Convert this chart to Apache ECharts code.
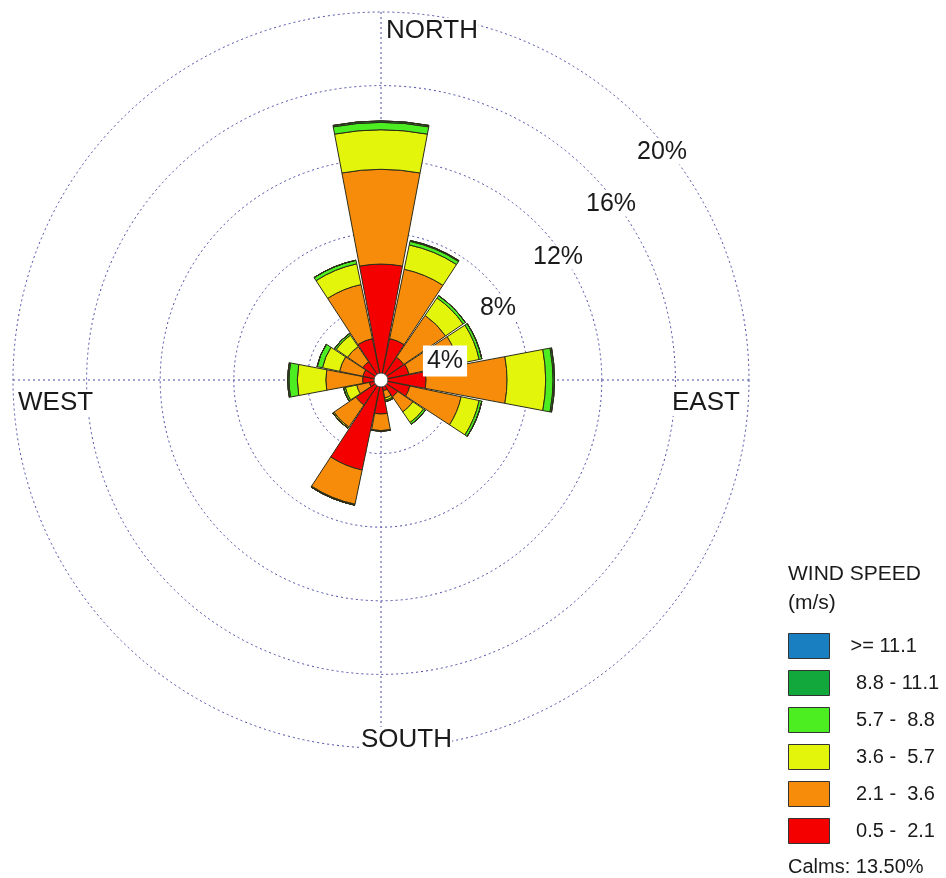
<!DOCTYPE html>
<html>
<head>
<meta charset="utf-8">
<script src="https://cdn.jsdelivr.net/npm/echarts@6/dist/echarts.min.js"></script>
<style>html,body{margin:0;padding:0;background:#fff;}#chart{width:946px;height:878px;}</style>
</head>
<body>
<div id="chart"></div>
<script>
// ---- data ----
const directions = ['N','NNE','NE','ENE','E','ESE','SE','SSE','S','SSW','SW','WSW','W','WNW','NW','NNW'];
const speedClasses = ['0.5 -  2.1', '2.1 -  3.6', '3.6 -  5.7', '5.7 -  8.8', '8.8 - 11.1', '>= 11.1'];
// frequency (%) per direction for each speed class
const speed_05_21  = [6.30, 2.30, 1.50, 1.55, 2.45, 1.60, 1.10, 0.60, 1.85, 5.00, 1.65, 0.65, 1.00, 1.00, 1.20, 2.30];
const speed_21_36  = [5.15, 3.85, 2.75, 2.75, 4.40, 2.85, 1.00, 0.40, 0.90, 1.90, 1.45, 0.70, 2.00, 1.30, 1.00, 3.00];
const speed_36_57  = [2.15, 1.35, 1.15, 1.15, 2.10, 1.00, 0.70, 0.12, 0.03, 0.05, 0.08, 0.63, 1.55, 0.95, 0.75, 1.15];
const speed_57_88  = [0.40, 0.20, 0.15, 0.15, 0.40, 0.15, 0.12, 0.08, 0.00, 0.00, 0.00, 0.10, 0.45, 0.30, 0.10, 0.20];
const speed_88_111 = [0.08, 0.05, 0.00, 0.00, 0.08, 0.00, 0.00, 0.00, 0.00, 0.00, 0.00, 0.00, 0.07, 0.00, 0.00, 0.00];
const speed_ge_111 = [0, 0, 0, 0, 0, 0, 0, 0, 0, 0, 0, 0, 0, 0, 0, 0];
const ringTicks = [4, 8, 12, 16, 20];
const ringLabels = ['4%', '8%', '12%', '16%', '20%'];
const cardinalLabels = ['NORTH', 'EAST', 'SOUTH', 'WEST'];
const calms = 13.50;
const legendTitle = ['WIND SPEED', '(m/s)'];

// ---- styling ----
const FONT = '"Liberation Sans", Arial, sans-serif';
const colors = ['#f50000', '#f78c0a', '#e4f50c', '#4cee22', '#12a83c', '#1a7fc1'];
const seriesData = [speed_05_21, speed_21_36, speed_36_57, speed_57_88, speed_88_111, speed_ge_111];
const gridLine = { color: '#4a4aa6', type: [2, 3], width: 1 };
const legendNames = ['>= 11.1', ' 8.8 - 11.1', ' 5.7 -  8.8', ' 3.6 -  5.7', ' 2.1 -  3.6', ' 0.5 -  2.1'];
const seriesNames = [' 0.5 -  2.1', ' 2.1 -  3.6', ' 3.6 -  5.7', ' 5.7 -  8.8', ' 8.8 - 11.1', '>= 11.1'];

const chart = echarts.init(document.getElementById('chart'), null, { renderer: 'canvas' });

const barSeries = seriesData.map((arr, i) => ({
  type: 'bar',
  name: seriesNames[i],
  coordinateSystem: 'polar',
  polarIndex: 0,
  stack: 'wind',
  data: arr,
  barCategoryGap: '5%',
  itemStyle: { color: colors[i], borderColor: '#2c2c18', borderWidth: 1 },
  emphasis: { disabled: true },
  silent: true,
  z: 3
}));

function txt(text, x, y, size, extra) {
  return {
    type: 'text', x: x, y: y, z: 100,
    style: Object.assign({ text: text, fontSize: size, fontFamily: FONT, fill: '#1a1a1a', align: 'left', verticalAlign: 'middle' }, extra || {})
  };
}

const graphics = [
  txt(cardinalLabels[0], 386, 31, 26, { backgroundColor: '#fff' }),
  txt(cardinalLabels[1], 672, 403, 26, { backgroundColor: '#fff' }),
  txt(cardinalLabels[2], 361, 740, 26, { backgroundColor: '#fff' }),
  txt(cardinalLabels[3], 18, 403, 26, { backgroundColor: '#fff' }),
  txt(ringLabels[4], 662, 152, 25, { align: 'center', backgroundColor: '#fff' }),
  txt(ringLabels[3], 611, 204, 25, { align: 'center', backgroundColor: '#fff' }),
  txt(ringLabels[2], 558, 257, 25, { align: 'center', backgroundColor: '#fff' }),
  txt(ringLabels[1], 498, 308, 25, { align: 'center', backgroundColor: '#fff' }),
  txt(ringLabels[0], 445, 361, 25, { align: 'center', backgroundColor: '#fff', padding: [3, 4, 3, 4] }),
  txt(legendTitle[0], 788, 574, 21),
  txt(legendTitle[1], 788, 603, 21),
  txt('Calms: ' + calms.toFixed(2) + '%', 788, 867, 20)
];

const option = {
  animation: false,
  backgroundColor: '#ffffff',
  polar: [
    { center: [381, 380], radius: [0, 368] },
    { center: [381, 380], radius: [0, 368] }
  ],
  angleAxis: [
    { polarIndex: 0, type: 'category', data: directions, startAngle: 101.25, clockwise: true,
      axisLine: { show: false }, axisTick: { show: false }, axisLabel: { show: false }, splitLine: { show: false } },
    { polarIndex: 1, type: 'value', min: 0, max: 360, interval: 90, startAngle: 90, clockwise: true,
      axisLine: { show: false }, axisTick: { show: false }, axisLabel: { show: false },
      splitLine: { show: true, lineStyle: gridLine } }
  ],
  radiusAxis: [
    { polarIndex: 0, type: 'value', min: 0, max: ringTicks[ringTicks.length - 1], interval: ringTicks[0],
      axisLine: { show: false }, axisTick: { show: false }, axisLabel: { show: false },
      splitLine: { show: true, lineStyle: gridLine } },
    { polarIndex: 1, type: 'value', min: 0, max: 20, show: false }
  ],
  legend: {
    orient: 'vertical', left: 788, top: 633, padding: 0,
    itemWidth: 41, itemHeight: 25, itemGap: 11,
    icon: 'rect',
    data: legendNames,
    selectedMode: false,
    itemStyle: { borderColor: '#333', borderWidth: 1 },
    textStyle: { fontSize: 20, fontFamily: FONT, color: '#1a1a1a', padding: [0, 0, 0, 16] }
  },
  series: barSeries.concat([{
    type: 'pie', name: 'Calms', center: [381, 380], radius: [0, 7],
    data: [{ value: calms, name: 'Calms' }],
    label: { show: false }, labelLine: { show: false }, silent: true, z: 10,
    itemStyle: { color: '#ffffff', borderColor: '#444', borderWidth: 1 }
  }]),
  graphic: { elements: graphics }
};
chart.setOption(option);
</script>
</body>
</html>
